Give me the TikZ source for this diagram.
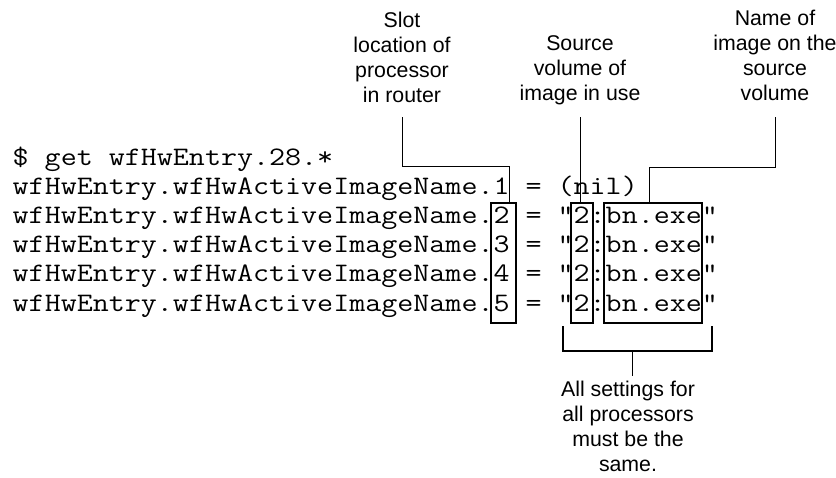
\documentclass[tikz,border=0pt]{standalone}
\usepackage{fontspec}
\setmainfont{Liberation Sans}
\newfontfamily\codefont[FakeStretch=1.167]{Latin Modern Mono}
\begin{document}
\begin{tikzpicture}[x=1pt,y=-1pt,
  code/.style={font=\codefont\fontsize{26.67}{29}\selectfont, anchor=base west, inner sep=0pt},
  lbl/.style={font=\fontsize{21.3}{25}\selectfont, align=center, inner sep=0pt, anchor=north},
  box/.style={draw, line width=2pt, inner sep=0pt, anchor=north west, minimum height=120pt},
  leader/.style={line width=1pt},
  brace/.style={line width=2pt},
]
\useasboundingbox (0,0) rectangle (836,477);

% code rows
\node[code] (r0) at (12.5,165)   {\$ get wfHwEntry.28.*};
\node[code] (r1) at (12.5,194.2) {wfHwEntry.wfHwActiveImageName.1 = (nil)};
\node[code] (r2) at (12.5,223.4) {wfHwEntry.wfHwActiveImageName.2 = "2:bn.exe"};
\node[code] (r3) at (12.5,252.6) {wfHwEntry.wfHwActiveImageName.3 = "2:bn.exe"};
\node[code] (r4) at (12.5,281.8) {wfHwEntry.wfHwActiveImageName.4 = "2:bn.exe"};
\node[code] (r5) at (12.5,311)   {wfHwEntry.wfHwActiveImageName.5 = "2:bn.exe"};

% boxes
\node[box, minimum width=25pt] (b1) at (490,202) {};
\node[box, minimum width=22pt] (b2) at (570,202) {};
\node[box, minimum width=98pt] (b3) at (603,202) {};

% labels
\node[lbl] (slot) at (402,12) {Slot\\location of\\processor\\in router};
\node[lbl] (src) at (580,35) {Source\\volume of\\image in use};
\node[lbl] (name) at (775,10) {Name of\\image on the\\source\\volume};
\node[lbl] (all) at (628,381) {All settings for\\all processors\\must be the\\same.};

% leaders
\coordinate (s1) at (402,117);
\coordinate (s2) at (509,166);
\draw[leader] (s1) |- (s2) -- (s2 |- b1.north);

\coordinate (v1) at (580,117);
\draw[leader] (v1) -- (v1 |- b2.north);

\coordinate (n1) at (775,117);
\coordinate (n2) at (649,167);
\draw[leader] (n1) |- (n2) -- (n2 |- b3.north);

% bracket
\coordinate (bl) at (563,326);
\coordinate (br) at (712,326);
\coordinate (bm) at (632,351);
\coordinate (bs) at (632,376);
\draw[brace] (bl) |- (br |- bm) -- (br);
\draw[leader] (bm) -- (bs);
\end{tikzpicture}
\end{document}
